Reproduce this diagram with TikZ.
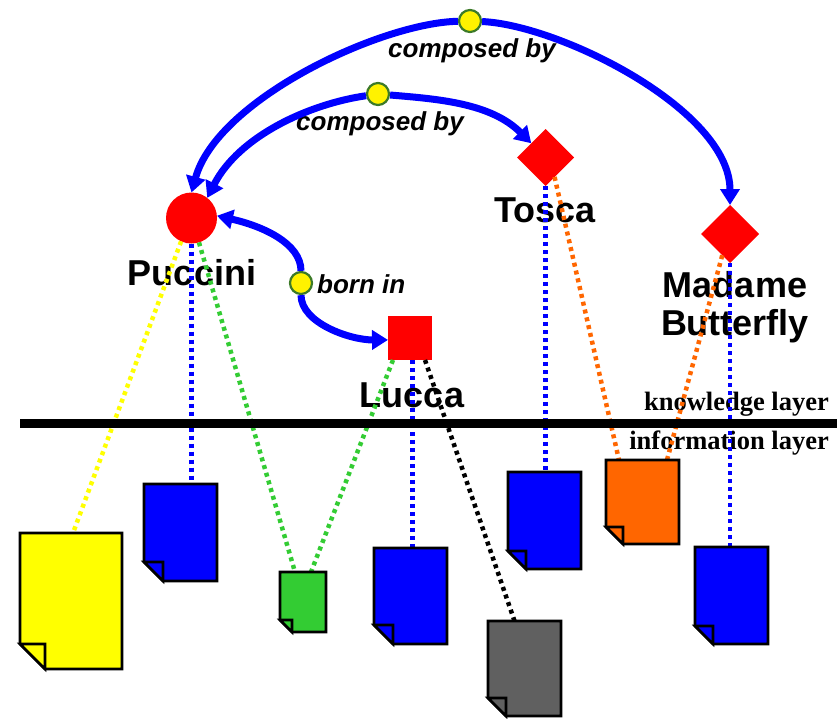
\documentclass[tikz,border=0pt]{standalone}
\usepackage{fontspec}
\setmainfont{Liberation Serif}
\newfontfamily\arialf{Liberation Sans}
\usetikzlibrary{shapes.geometric,arrows.meta}
\definecolor{dotgreen}{HTML}{3C7A28}
\definecolor{docgreen}{HTML}{33CC33}
\definecolor{docorange}{HTML}{FF6600}
\definecolor{docgray}{HTML}{606060}
\definecolor{docyellow}{HTML}{FFFF00}
\definecolor{docblue}{HTML}{0000FF}
\newcommand\drawdoc[3]{%
  \draw[docline, fill=#2] (#1.north west) -- (#1.north east) -- (#1.south east)
    -- ([xshift=#3]#1.south west) -- ([yshift=#3]#1.south west) -- cycle;
  \draw[docline, fill=#2] ([yshift=#3]#1.south west) -- ([xshift=#3,yshift=#3]#1.south west)
    -- ([xshift=#3]#1.south west) -- cycle;
}
\begin{document}
\begin{tikzpicture}[x=1pt,y=1pt,
  docbox/.style={rectangle, inner sep=0pt, outer sep=0pt},
  docline/.style={line width=2.6pt, line join=miter, draw=black},
  concept/.style={fill=red, inner sep=0pt, outer sep=0pt},
  reldot/.style={circle, fill=yellow, draw=dotgreen, line width=2.2pt, minimum size=22pt, inner sep=0pt},
  arr/.style={draw=docblue, line width=7pt, -{Triangle[length=16pt,width=19pt]}},
  lbl/.style={font=\arialf\bfseries\fontsize{36}{38}\selectfont, inner sep=0pt},
  elbl/.style={font=\arialf\bfseries\itshape\fontsize{26}{30}\selectfont, inner sep=0pt},
  layerlbl/.style={font=\bfseries\fontsize{26.5}{30}\selectfont, inner sep=0pt},
  dotline/.style={line width=4.5pt, dash pattern=on 4pt off 4pt}]
\useasboundingbox (0,0) rectangle (837,-718);

% concept nodes
\node[concept, circle, minimum size=51pt] (P) at (191.5,-218) {};
\node[concept, diamond, minimum width=57pt, minimum height=57pt] (T) at (545.5,-157.5) {};
\node[concept, diamond, minimum width=58pt, minimum height=58pt] (M) at (730,-234) {};
\node[concept, rectangle, minimum size=44pt] (L) at (410,-338) {};

% relation dots
\node[reldot] (d1) at (470,-21) {};
\node[reldot] (d2) at (378,-94) {};
\node[reldot] (d3) at (301,-283) {};

% labels
\node[lbl, anchor=base] (Pl) at (192,-285) {Puccini};
\node[lbl, anchor=base] (Tl) at (545,-222) {Tosca};
\node[lbl, anchor=base, align=center] (Ml) at (735,-335) {Madame\\Butterfly};
\node[lbl, anchor=base] (Ll) at (412,-407) {Lucca};
\node[elbl, anchor=base] (e1) at (472,-57) {composed by};
\node[elbl, anchor=base] (e2) at (380,-130) {composed by};
\node[elbl, anchor=base west] (e3) at (317,-293) {born in};
\node[layerlbl, anchor=base east] (kl) at (829,-410) {knowledge layer};
\node[layerlbl, anchor=base east] (il) at (829,-449) {information layer};

% relation arrows
\draw[arr] (d1) .. controls (380,-23) and (217,-100) .. (P.north);
\draw[arr] (d1) .. controls (560,-25) and (730,-110) .. (M.north);
\draw[arr] (d2) .. controls (309,-104) and (239,-136) .. (P.52);
\draw[arr] (d2) .. controls (438,-99) and (491,-103) .. (T.135);
\draw[arr] (d3) .. controls (301,-243) and (262,-226) .. (P.5);
\draw[arr] (d3) .. controls (301,-323) and (350,-340) .. (L.185);

% document nodes
\node[docbox, minimum width=102pt, minimum height=136pt] (y1) at (71,-601) {};
\node[docbox, minimum width=73pt, minimum height=97pt] (b1) at (180.5,-532.5) {};
\node[docbox, minimum width=46pt, minimum height=60pt] (g1) at (303,-602) {};
\node[docbox, minimum width=73pt, minimum height=96pt] (b2) at (410.5,-596) {};
\node[docbox, minimum width=73pt, minimum height=95pt] (k1) at (524.5,-668.5) {};
\node[docbox, minimum width=73pt, minimum height=97pt] (b3) at (544.5,-520.5) {};
\node[docbox, minimum width=73pt, minimum height=84pt] (o1) at (642.5,-502) {};
\node[docbox, minimum width=73pt, minimum height=97pt] (b4) at (731.5,-595.5) {};

% dotted links
\draw[dotline, docyellow] (P.246) -- ([xshift=2pt]y1.north);
\draw[dotline, docblue] (P.south) -- (P.south |- b1.north);
\draw[dotline, docgreen] (P.287) -- ([xshift=-8pt]g1.north);
\draw[dotline, docgreen] ([xshift=5pt]L.south west) -- ([xshift=8pt]g1.north);
\draw[dotline, docblue] ([xshift=2.5pt]L.south) -- ([xshift=2.5pt]L.south |- b2.north);
\draw[dotline, black] ([xshift=-7pt]L.south east) -- ([xshift=-10pt]k1.north);
\draw[dotline, docblue] (T.south) -- (T.south |- b3.north);
\draw[dotline, docorange] (T.-65) -- ([xshift=-23.5pt]o1.north);
\draw[dotline, docorange] (M.250) -- ([xshift=24.5pt]o1.north);
\draw[dotline, docblue] (M.south) -- (M.south |- b4.north);

% layer separator
\coordinate (barL) at (20,-423);
\coordinate (barR) at (837,-423);
\draw[line width=9pt] (barL) -- (barR);

% documents
\drawdoc{y1}{docyellow}{25pt}
\drawdoc{b1}{docblue}{19pt}
\drawdoc{g1}{docgreen}{12pt}
\drawdoc{b2}{docblue}{19pt}
\drawdoc{k1}{docgray}{18pt}
\drawdoc{b3}{docblue}{18pt}
\drawdoc{o1}{docorange}{17pt}
\drawdoc{b4}{docblue}{18pt}
\end{tikzpicture}
\end{document}
